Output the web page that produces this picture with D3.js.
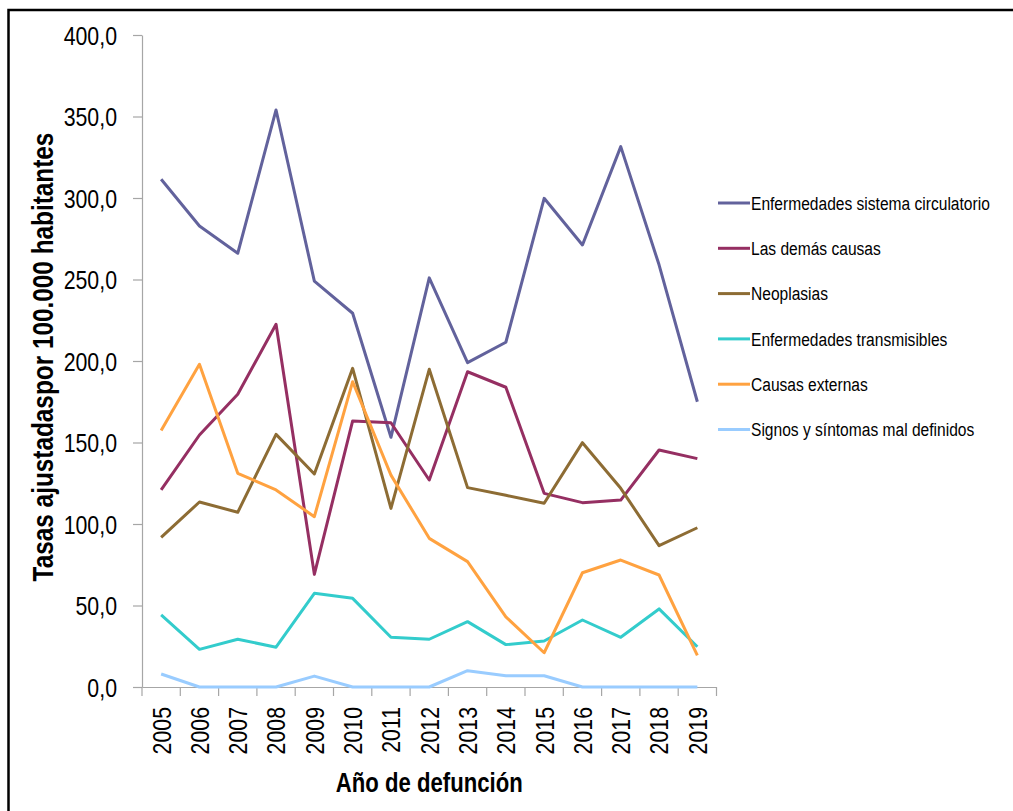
<!DOCTYPE html>
<html>
<head>
<meta charset="utf-8">
<script src="https://cdn.jsdelivr.net/npm/d3@7"></script>
<style>
    body { margin: 0; background: #fff; }
    svg text { font-family: "Liberation Sans", Arial, sans-serif; }
</style>
</head>
<body>
<svg id="chart"></svg>
<script>
var years = ["2005", "2006", "2007", "2008", "2009", "2010", "2011", "2012", "2013", "2014", "2015", "2016", "2017", "2018", "2019"];

var seriesNames = ["Enfermedades sistema circulatorio", "Las demás causas", "Neoplasias",
    "Enfermedades transmisibles", "Causas externas", "Signos y síntomas mal definidos"];

var circulatorio = [311.5, 282.8, 266.1, 354.0, 249.0, 229.3, 153.2, 251.0, 199.0, 211.5, 299.8, 271.2, 331.5, 259.0, 175.0];
var demasCausas = [120.9, 154.6, 179.6, 222.5, 69.1, 163.2, 162.1, 127.0, 193.4, 183.9, 118.8, 113.1, 114.7, 145.4, 140.1];
var neoplasias = [91.8, 113.5, 107.2, 155.0, 130.7, 195.5, 109.6, 194.9, 122.3, 117.6, 112.7, 149.9, 121.9, 86.7, 97.7];
var transmisibles = [44.2, 23.1, 29.3, 24.4, 57.5, 54.4, 30.5, 29.3, 40.1, 26.0, 28.2, 41.1, 30.5, 47.9, 24.7];
var externas = [157.3, 198.0, 131.1, 120.9, 104.5, 187.3, 130.0, 91.2, 76.9, 43.0, 21.0, 70.1, 77.9, 68.7, 19.4];
var signos = [8.0, 0, 0, 0, 6.7, 0, 0, 0, 10.0, 6.9, 6.9, 0, 0, 0, 0];

var yTicks = [0, 50, 100, 150, 200, 250, 300, 350, 400];

var colors = ["#62629c", "#952f62", "#8d6c34", "#33cccc", "#ffa240", "#99ccff"];

var allSeries = [circulatorio, demasCausas, neoplasias, transmisibles, externas, signos];

var width = 1013,
    height = 811;

// no Arial Narrow here, so squeeze the text sideways
var squeeze = 0.82;

var svg = d3.select("#chart")
    .attr("width", width)
    .attr("height", height);

// outer frame (goes past right and bottom edges like the original)
svg.append("rect")
    .attr("x", 8.5)
    .attr("y", 10)
    .attr("width", 1010)
    .attr("height", 810)
    .attr("fill", "none")
    .attr("stroke", "#000")
    .attr("stroke-width", 2.5);

var plot = { left: 142, right: 716.5, top: 35, bottom: 687 };

var x = d3.scaleBand()
    .domain(years)
    .range([plot.left, plot.right]);

var y = d3.scaleLinear()
    .domain([0, 400])
    .range([plot.bottom, plot.top]);

var fmt = function (d) { return d3.format(".1f")(d).replace(".", ","); };

// y axis
var yAxis = svg.append("g")
    .attr("transform", "translate(" + plot.left + ",0)")
    .call(d3.axisLeft(y).tickValues(yTicks).tickFormat(fmt).tickSize(9).tickPadding(16).tickSizeOuter(0));

yAxis.select(".domain").attr("stroke", "#a6a6a6").attr("stroke-width", 1.2);
yAxis.selectAll(".tick line").attr("stroke", "#a6a6a6").attr("stroke-width", 1.2);
yAxis.selectAll(".tick text")
    .attr("fill", "#000")
    .style("font-size", "26px")
    .attr("x", -25 / squeeze)
    .attr("transform", "scale(" + squeeze + ",1)")
    .attr("dy", "0.36em");

// x axis, ticks between the categories
var xAxis = svg.append("g")
    .attr("transform", "translate(0," + plot.bottom + ")")
    .call(d3.axisBottom(x).tickSize(0).tickSizeOuter(0).tickFormat(""));
xAxis.select(".domain").attr("stroke", "#a6a6a6").attr("stroke-width", 1.2);
xAxis.selectAll(".tick").remove();

var edges = years.map(function (d) { return x(d); }).concat([plot.right]);
xAxis.selectAll("line.edge")
    .data(edges)
    .join("line")
    .attr("class", "edge")
    .attr("x1", function (d) { return d; })
    .attr("x2", function (d) { return d; })
    .attr("y1", 0)
    .attr("y2", 9)
    .attr("stroke", "#a6a6a6")
    .attr("stroke-width", 1.2);

xAxis.selectAll("text.year")
    .data(years)
    .join("text")
    .attr("class", "year")
    .attr("transform", function (d) {
        return "translate(" + (x(d) + x.bandwidth() / 2) + ",20) rotate(-90) scale(" + squeeze + ",1)";
    })
    .attr("text-anchor", "end")
    .attr("dy", "0.36em")
    .attr("fill", "#000")
    .style("font-size", "26px")
    .text(function (d) { return d; });

// axis titles
svg.append("text")
    .attr("transform", "translate(53,357) rotate(-90) scale(0.84,1)")
    .attr("text-anchor", "middle")
    .style("font-size", "29px")
    .style("font-weight", "bold")
    .text("Tasas ajustadaspor 100.000 habitantes");

svg.append("text")
    .attr("transform", "translate(" + (plot.left + plot.right) / 2 + ",792) scale(" + squeeze + ",1)")
    .attr("text-anchor", "middle")
    .style("font-size", "27px")
    .style("font-weight", "bold")
    .text("Año de defunción");

// lines
var line = d3.line()
    .x(function (d, i) { return x(years[i]) + x.bandwidth() / 2; })
    .y(function (d) { return y(d); });

svg.append("g")
    .selectAll("path")
    .data(allSeries)
    .join("path")
    .attr("d", line)
    .attr("fill", "none")
    .attr("stroke", function (d, i) { return colors[i]; })
    .attr("stroke-width", 3)
    .attr("stroke-linejoin", "round");

// legend
var legend = svg.append("g")
    .selectAll("g")
    .data(seriesNames)
    .join("g")
    .attr("transform", function (d, i) { return "translate(718," + (203 + i * 45.3) + ")"; });

legend.append("line")
    .attr("x1", 0)
    .attr("x2", 32)
    .attr("stroke", function (d, i) { return colors[i]; })
    .attr("stroke-width", 3);

legend.append("text")
    .attr("transform", "translate(33,0) scale(" + squeeze + ",1)")
    .attr("dy", "0.36em")
    .style("font-size", "19px")
    .text(function (d) { return d; });
</script>
</body>
</html>
